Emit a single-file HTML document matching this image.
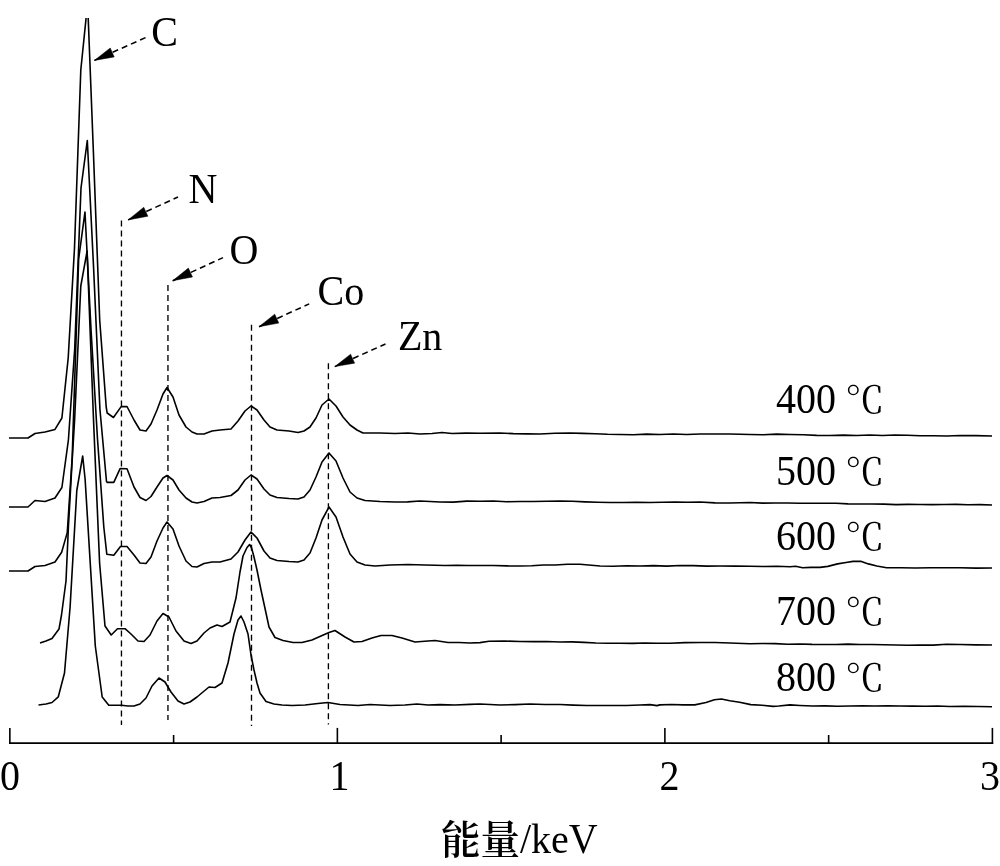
<!DOCTYPE html>
<html lang="zh">
<head>
<meta charset="utf-8">
<title>EDS 能谱图</title>
<style>
html,body{margin:0;padding:0;background:#fff;}
body{position:relative;width:1000px;height:866px;overflow:hidden;color:#000;
  font-family:"Liberation Serif","Noto Serif CJK SC",serif;font-size:40px;}
svg{display:block;position:absolute;left:0;top:0;}
.t{position:absolute;white-space:nowrap;line-height:0;height:100px;
  transform-origin:0 100px;transform:scaleY(1.05);}
.t::before{content:"";display:inline-block;width:0;height:100px;}
.deg{display:inline-block;font-family:"Noto Serif CJK SC",serif;font-size:35px;
  transform-origin:0 100%;transform:scaleX(1.13);margin-left:-1px;}
.cjk{display:inline-block;font-family:"Noto Serif CJK SC",serif;font-weight:600;font-size:39.5px;
  position:relative;top:2.4px;transform-origin:0 50%;transform:scaleY(0.9524);}
</style>
</head>
<body>
<svg width="1000" height="866" viewBox="0 0 1000 866" role="img" aria-label="EDS 能谱图：C、N、O、Co、Zn 峰；热解温度 400 °C、500 °C、600 °C、700 °C、800 °C；横轴 能量/keV">
<defs><clipPath id="cp"><rect x="0" y="18" width="1000" height="848"/></clipPath></defs>
<rect x="0" y="0" width="1000" height="866" fill="#fff"/>
<g fill="none" stroke="#000" stroke-width="1.6" stroke-linejoin="round" stroke-linecap="butt" clip-path="url(#cp)">
<polyline points="9,438 28,438 35,433.5 45,432 55,429.4 61.9,418 68.2,358 74.5,248 80.8,70 86.1,18 87.1,4 88.2,18 93.4,152 99.7,320 106.2,407 107.15,413 113.45,417.5 121.15,406.6 127,406.5 134,420 140,430 146,431 151,424 157,410 163,394 167,387.5 173,397 179,415 186,427 192,432 197,434 204,434 212,431 220,430 231,429 238,421 245,411 251,406 257,410 264,420 270,427 277,430 289,431 298,432.5 304,431 310,427 316,418 322,405 329,399 336,406 343,417 350,425 357,430 363,433 380,433 395,433.5 408,433 420,434 432,433.5 442,432.5 452,433.5 466,433.09 480,433.3 500,433 513.3,433.63 526.7,433.89 540,434 555,433.29 570,433 582.5,433.37 595,433.71 607.5,434.25 620,434.5 633.3,434.74 646.7,434.16 660,434.5 673.3,433.94 686.7,434.45 700,434 715,433.94 730,434 750,434.5 763.3,434.72 776.7,434.08 790,434.5 803.3,434.79 816.7,435.35 830,435.5 843.3,435.11 856.7,435.54 870,435 882.5,435.54 895,435.01 907.5,435.2 920,435.8 933.3,435.73 946.7,435.97 960,435.5 976,435.65 992,436"/>
<polyline points="9,507 28,507 35,500.5 45,501.5 55,498 61.9,487.5 68.4,440 74.7,349 81,188 87.3,140.5 93.6,268 99.9,409 106.5,481.5 107.3,482.4 113.8,482.4 120.1,468.6 127,468.8 134,487 140,497.5 146,500.5 151,496.5 157,487 163,478 167,475.5 173,480 179,490 186,498 192,502 197,503 204,501.5 212,498 220,497.5 231,495.5 238,490 245,480 251,475 257,479 264,489 270,495 277,497.5 289,498.5 298,499 304,497 310,490 316,477 322,462 329,453 336,461 343,478 350,492 357,498 365,500.5 380,501.5 395,502 407.5,501.88 420,501 440,502 453.3,502.14 466.7,501.16 480,501.3 493.3,501.02 506.7,501.72 520,501.5 533.3,501.53 546.7,501.31 560,501 572.5,501.21 585,501.84 597.5,502.21 610,502.5 623.3,502.57 636.7,502.21 650,502.5 662.5,502.32 675,502.16 687.5,502.31 700,502 715,502.92 730,503 750,502.5 762.5,503.08 775,502.94 787.5,503.05 800,503.3 812,503.25 824,503.19 836,503.32 848,503.83 860,504 872,503.95 884,504.1 896,504.63 908,504.42 920,504.5 932,504.63 944,504.45 956,504.35 968,504.69 980,504.61 992,505"/>
<polyline points="9,571 28,571 35,566.5 45,565.5 55,562 61.65,552.2 67.25,532.6 72.2,457 78.66,259 84.96,212 91.1,331 97.5,439 103.8,527 106.8,554.2 113.8,555.3 120.45,546.5 127,546.5 134,555 140,563 146,563.5 151,557 157,541 163,528 167,522 173,529 179,546 186,561 192,566.5 197,567 204,563.5 212,562 220,562 231,559 238,552 245,540 251,532 257,538 264,551 270,558 277,560.5 289,561.5 298,562 304,560 310,553 316,538 322,520 329,507 336,517 343,537 350,554 357,562 365,565 375,566 390,565 408,564.5 425,565 445,565.5 456.7,565.28 468.3,565.54 480,565.5 493.3,565.56 506.7,565.92 520,566 531.7,565.77 543.3,564.97 555,565 567.5,564.24 580,564.3 600,566 613.3,566.28 626.7,565.8 640,566 653.3,565.61 666.7,566.08 680,565.5 693.3,565.64 706.7,566.12 720,566 735,566.13 750,566.3 763.3,566.55 776.7,566.27 790,566.7 795.6,566.3 802.6,567.8 811,567.4 820,567.4 827.8,566.4 837.6,563.9 846,562.5 853,561.4 861.4,561.4 868.4,563.9 876.8,566 886.6,567.7 901.1,567.81 915.5,568.01 930,567.7 945,567.77 960,567.8 976,568.1 992,568"/>
<polyline points="40,643 46,641 52,638.5 59,629 61.5,615 66,581 68.5,525 72.2,460 74.6,420 80.8,286 87.1,251 93.4,417 99.6,563 105,626 111.2,635 117.5,628.7 125,628.7 131,634 138,641 144,641.5 150,635 157,621 163,613.5 169,617 176,631 184,641 191,643.5 197,641 204,633 210,628 217,625 222,626.5 230,622 236,598 240,572 243,556 247,547.5 249.6,544.5 251.6,548 254,557 257,570 261,590 266,613 269,627 275,637.5 283,640.5 293,642.5 302,642.5 312,640 321,636 329,632.5 335,630.5 345,637 354,642 362,641.5 372,638 381,635.5 392,635.5 402,638 415,642 428,641 435,640.5 448,642.5 459,642.53 470,643 480,642.6 489,641.3 504.5,641.07 520,641.5 533.3,641.58 546.7,641.54 560,642 572,641.88 584,642.4 596,643.07 608,643.21 620,643.2 632.5,643.42 645,642.97 657.5,643.23 670,643.2 685,642.66 700,642.5 715,642.48 730,643 750,643.7 762.5,643.44 775,643.61 787.5,644.28 800,644 812,644.38 824,644.46 836,644.55 848,644.14 860,644.5 872,644.44 884,644.81 896,644.99 908,645.2 920,645 933.3,645.15 946.7,644.32 960,644.5 976,644.84 992,645"/>
<polyline points="38.5,705 46,704 52,702.5 58.3,696.8 64.5,673 70.1,607 76.8,490.5 82.7,456 85.1,479 95.3,646 102.2,697 108.8,705.3 121.5,705.3 128,706 134,706 140,704 146,698 152,686 159,678 165,682 171,692 178,701 184,704 190,702 197,697 203,692 209,687 215,687.5 222,683 228,663 234,634 238,620 241,616 244,622 248,634 251,655 254,670 257,683 260,693 266,701.5 274,704 282,705 292,705.5 305,705 318,703.5 328,702.5 340,704.5 358,705.5 370,704.5 390,705.5 405,705 417,704 428,705 440,704.6 455,705 470,704.4 480,704 500,705 515,704.6 530,704 545,704.45 560,704.5 573.3,705.08 586.7,705.54 600,705.5 613.3,705.53 626.7,705.52 640,705 650,704.6 657,705.6 659.8,704.9 671.5,704.5 683.1,704.87 694.8,704.9 706,702.5 714.4,699.7 721.4,699 729.8,700.7 739.6,702.2 750.8,704.6 762,705.3 773.2,706.4 778.8,706 790,704.9 800,705.5 812.5,706 825,705.88 837.5,706.21 850,706 862.5,705.68 875,705.97 887.5,705.79 900,706 912.5,706.16 925,706.31 937.5,705.97 950,706.5 964,706.33 978,706.45 992,706.7"/>
</g>
<g stroke="#000" stroke-width="1.35" stroke-dasharray="6 4" fill="none">
<line x1="121.45" y1="220.5" x2="121.45" y2="725"/>
<line x1="167.95" y1="285" x2="167.95" y2="720"/>
<line x1="251.5" y1="324.8" x2="251.5" y2="726"/>
<line x1="328.4" y1="363.2" x2="328.4" y2="724.5"/>
</g>
<line x1="94.4" y1="60.4" x2="146" y2="37.4" stroke="#000" stroke-width="1.55" stroke-dasharray="6 4"/>
<polygon points="94.4,60.4 114.21,56.94 110.22,47.99" fill="#000" stroke="#000" stroke-width="0.5" stroke-linejoin="miter"/>

<line x1="128.1" y1="219.9" x2="178" y2="197" stroke="#000" stroke-width="1.55" stroke-dasharray="6 4"/>
<polygon points="128.1,219.9 147.87,216.22 143.78,207.31" fill="#000" stroke="#000" stroke-width="0.5" stroke-linejoin="miter"/>

<line x1="172.7" y1="280.7" x2="223" y2="257.6" stroke="#000" stroke-width="1.55" stroke-dasharray="6 4"/>
<polygon points="172.7,280.7 192.47,277.01 188.38,268.11" fill="#000" stroke="#000" stroke-width="0.5" stroke-linejoin="miter"/>

<line x1="259" y1="326.7" x2="309.2" y2="303.9" stroke="#000" stroke-width="1.55" stroke-dasharray="6 4"/>
<polygon points="259,326.7 278.78,323.10 274.73,314.17" fill="#000" stroke="#000" stroke-width="0.5" stroke-linejoin="miter"/>

<line x1="334.8" y1="366.6" x2="385.5" y2="344" stroke="#000" stroke-width="1.55" stroke-dasharray="6 4"/>
<polygon points="334.8,366.6 354.61,363.14 350.62,354.19" fill="#000" stroke="#000" stroke-width="0.5" stroke-linejoin="miter"/>

<g stroke="#000" stroke-width="1.6" fill="none">
<line x1="9.05" y1="743.2" x2="993.2" y2="743.2" stroke-width="1.7"/>
<line x1="9.85" y1="727.9" x2="9.85" y2="744"/>
<line x1="173.61" y1="735" x2="173.61" y2="744"/>
<line x1="337.37" y1="727.9" x2="337.37" y2="744"/>
<line x1="501.12" y1="735" x2="501.12" y2="744"/>
<line x1="664.88" y1="727.9" x2="664.88" y2="744"/>
<line x1="828.64" y1="735" x2="828.64" y2="744"/>
<line x1="992.40" y1="727.9" x2="992.40" y2="744"/>
</g>
</svg>
<div class="t" style="left:151.3px;top:-54.4px">C</div>
<div class="t" style="left:188.6px;top:103px">N</div>
<div class="t" style="left:229.5px;top:164px">O</div>
<div class="t" style="left:317.5px;top:205px">Co</div>
<div class="t" style="left:397.9px;top:250px">Zn</div>
<div class="t" style="left:776.1px;top:312.5px">400 <span class="deg">℃</span></div>
<div class="t" style="left:776.1px;top:385px">500 <span class="deg">℃</span></div>
<div class="t" style="left:776.1px;top:450px">600 <span class="deg">℃</span></div>
<div class="t" style="left:776.1px;top:524.5px">700 <span class="deg">℃</span></div>
<div class="t" style="left:776.1px;top:590.5px">800 <span class="deg">℃</span></div>
<div class="t" style="left:0px;top:690px">0</div>
<div class="t" style="left:329.5px;top:690px">1</div>
<div class="t" style="left:659.5px;top:690px">2</div>
<div class="t" style="left:980px;top:690px">3</div>
<div class="t ttl" style="left:441px;top:753px"><span class="cjk">能量</span>/keV</div>
</body>
</html>
